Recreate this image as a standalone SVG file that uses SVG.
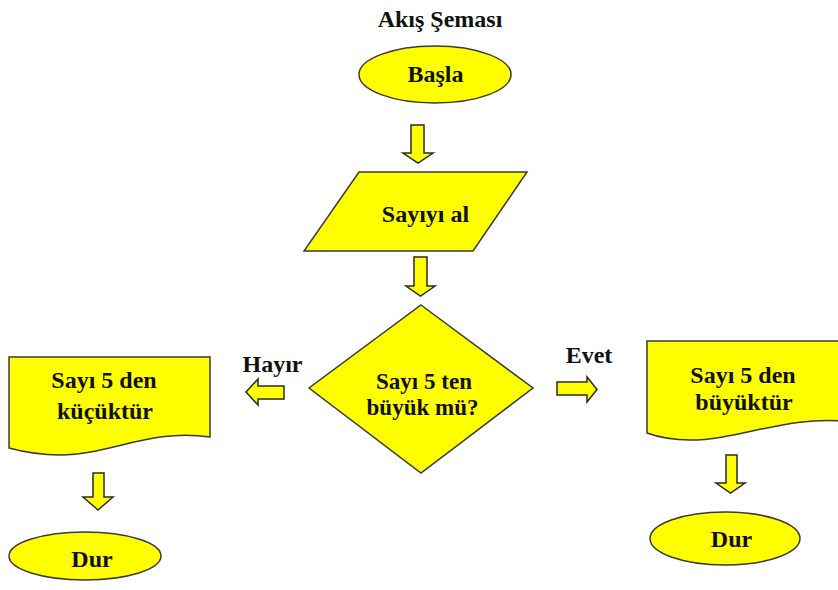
<svg xmlns="http://www.w3.org/2000/svg" width="838" height="590" viewBox="0 0 838 590">
<style>
.shape{fill:#ffff00;stroke:#3a3a3a;stroke-width:1.5}
.arr{fill:#ffff00;stroke:#2a2a2a;stroke-width:1.5;stroke-linejoin:miter}
text{font-family:"Liberation Serif","Times New Roman",serif;font-weight:bold;font-size:24px;fill:#111;text-anchor:middle}
.dia{font-size:23px}
</style>
<rect width="838" height="590" fill="#ffffff"/>
<text x="440" y="27">Akış Şeması</text>
<g id="basla">
<ellipse class="shape" cx="435" cy="74.5" rx="76" ry="28.5"/>
<text x="435.5" y="82">Başla</text>
</g>
<g id="sayiyi-al">
<polygon class="shape" points="359,172 527,172 473,251 304,251"/>
<text x="425.5" y="222">Sayıyı al</text>
</g>
<g id="karar">
<polygon class="shape" points="421,305 533,388 421,473 309,388"/>
<text class="dia" x="424" y="388.5">Sayı 5 ten</text>
<text class="dia" x="422.5" y="414.5">büyük mü?</text>
</g>
<g id="kucuk">
<path class="shape" d="M9,357 H210 V437 C150,428 110,455 60,455 C35,455 20,451 9,448 Z"/>
<text x="104" y="388">Sayı 5 den</text>
<text x="105" y="419">küçüktür</text>
</g>
<g id="buyuk">
<path class="shape" d="M647,341 H850 V422 C790,414 740,440 690,440 C670,440 658,437 647,433 Z"/>
<text x="743" y="383">Sayı 5 den</text>
<text x="744" y="410">büyüktür</text>
</g>
<g id="dur-sol">
<ellipse class="shape" cx="85" cy="556" rx="76" ry="24"/>
<text x="92" y="567">Dur</text>
</g>
<g id="dur-sag">
<ellipse class="shape" cx="725" cy="538.5" rx="75" ry="26.5"/>
<text x="731.5" y="547">Dur</text>
</g>
<g id="connectors">
<polygon class="arr" points="411,125 424,125 424,153 433,153 418,163 403,153 411,153"/>
<polygon class="arr" points="414,257 427,257 427,286 435,286 420.5,296 406,286 414,286"/>
<polygon class="arr" points="284,386 284,399 258,399 258,405 246,392 258,379 258,386"/>
<polygon class="arr" points="557,382 587,382 587,377 597,389.5 587,402 587,395 557,395"/>
<polygon class="arr" points="93,473 104,473 104,497 113,497 98,510 83,497 93,497"/>
<polygon class="arr" points="726,455 737,455 737,483 745,483 730.5,493 716,483 726,483"/>
<text x="272.5" y="372">Hayır</text>
<text x="589" y="363">Evet</text>
</g>
</svg>
